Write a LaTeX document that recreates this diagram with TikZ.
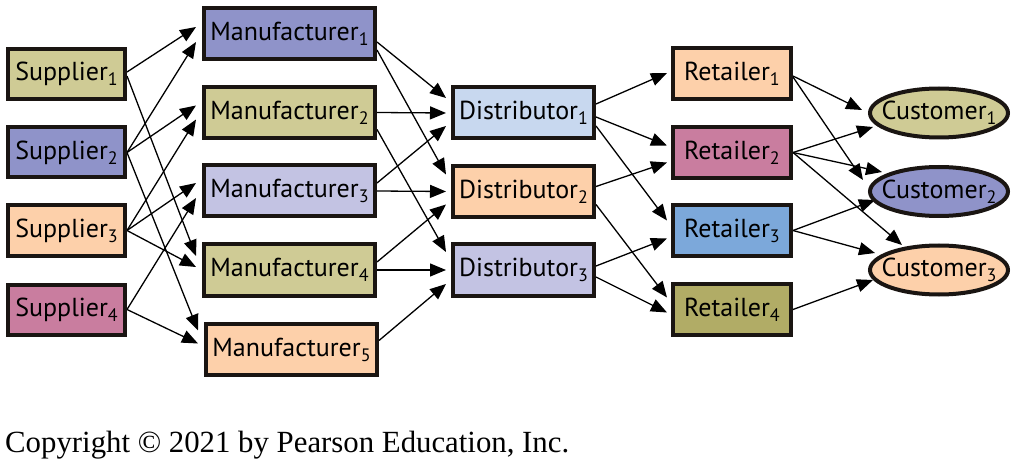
\documentclass[tikz,border=0pt]{standalone}
\usepackage{fontspec}
\setmainfont{Liberation Serif}
\newfontfamily\labfont{PT Sans}
\usetikzlibrary{arrows.meta,shapes.geometric,calc}
\pgfdeclarelayer{background}
\pgfsetlayers{background,main}
\newcommand\sbs[1]{\raisebox{-5pt}{\fontsize{18pt}{18pt}\selectfont #1}}
\definecolor{cOlive}{HTML}{CFCB95}
\definecolor{cBlue}{HTML}{8F93C9}
\definecolor{cPeach}{HTML}{FDD0AA}
\definecolor{cPink}{HTML}{C97D9F}
\definecolor{cLav}{HTML}{C3C3E3}
\definecolor{cLight}{HTML}{C8D8EF}
\definecolor{cRet}{HTML}{7CA8DA}
\definecolor{cDark}{HTML}{B1AC66}
\definecolor{bord}{HTML}{1A1512}
\tikzset{
  box/.style={draw=bord, line width=4pt, rectangle, inner sep=0pt,
    font=\labfont\fontsize{26pt}{26pt}\selectfont, text=black},
  sup/.style={box, minimum width=117pt, minimum height=50pt},
  man/.style={box, minimum width=171pt, minimum height=51pt},
  dis/.style={box, minimum width=141pt, minimum height=51pt},
  ret/.style={box, minimum width=118pt, minimum height=51pt},
  cus/.style={box, ellipse, inner xsep=-26pt, inner ysep=-4pt, minimum width=138pt, minimum height=49pt},
  arr/.style={line width=1.3pt, -{Triangle[length=16pt,width=13pt]}}
}
\begin{document}
\begin{tikzpicture}[x=1pt,y=-1pt]
\useasboundingbox (0,0) rectangle (1020,465);
% suppliers
\node[sup, fill=cOlive] (S1) at (66.5,74) {Supplier\sbs{1}};
\node[sup, fill=cBlue]  (S2) at (66.5,152.5) {Supplier\sbs{2}};
\node[sup, fill=cPeach] (S3) at (66.5,230.5) {Supplier\sbs{3}};
\node[sup, fill=cPink]  (S4) at (66.5,309.5) {Supplier\sbs{4}};
% manufacturers
\node[man, fill=cBlue]  (M1) at (289.5,34) {Manufacturer\sbs{1}};
\node[man, fill=cOlive] (M2) at (289.5,112.5) {Manufacturer\sbs{2}};
\node[man, fill=cLav]   (M3) at (289.5,191) {Manufacturer\sbs{3}};
\node[man, fill=cOlive] (M4) at (289.5,270) {Manufacturer\sbs{4}};
\node[man, fill=cPeach] (M5) at (291.5,349.5) {Manufacturer\sbs{5}};
% distributors
\node[dis, fill=cLight] (D1) at (523.5,113) {Distributor\sbs{1}};
\node[dis, fill=cPeach] (D2) at (523.5,191.5) {Distributor\sbs{2}};
\node[dis, fill=cLav]   (D3) at (523.5,270) {Distributor\sbs{3}};
% retailers
\node[ret, fill=cPeach] (R1) at (732,74) {Retailer\sbs{1}};
\node[ret, fill=cPink]  (R2) at (732,152.5) {Retailer\sbs{2}};
\node[ret, fill=cRet]   (R3) at (732,230.5) {Retailer\sbs{3}};
\node[ret, fill=cDark]  (R4) at (732,309.5) {Retailer\sbs{4}};
% customers
\node[cus, fill=cOlive] (C1) at (939,113) {Customer\sbs{1}};
\node[cus, fill=cBlue]  (C2) at (939,191.5) {Customer\sbs{2}};
\node[cus, fill=cPeach] (C3) at (939,270) {Customer\sbs{3}};
% copyright
\node[anchor=base west, inner sep=0pt, font=\fontsize{30.8pt}{30.8pt}\selectfont] (cp) at (5,452) {Copyright \textcopyright{} 2021 by Pearson Education, Inc.};
\begin{pgfonlayer}{background}
% supplier -> manufacturer
\draw[arr] ($(S1.east)+(0,-2)$) -- ($(M1.west)+(-6,-7)$);
\draw[arr] ($(S1.east)+(0,2)$)  -- ($(M4.west)+(-6,-14)$);
\draw[arr] (S2.east) -- ($(M1.west)+(-6,8)$);
\draw[arr] (S2.east) -- ($(M2.west)+(-6,-7)$);
\draw[arr] (S2.east) -- ($(M5.west)+(-6,-19)$);
\draw[arr] (S3.east) -- ($(M2.west)+(-6,7)$);
\draw[arr] (S3.east) -- ($(M3.west)+(-6,-8)$);
\draw[arr] (S3.east) -- ($(M4.west)+(-6,-3)$);
\draw[arr] (S4.east) -- ($(M3.west)+(-6,7)$);
\draw[arr] (S4.east) -- ($(M5.west)+(-6,-6)$);
% manufacturer -> distributor
\draw[arr] ($(M1.east)+(0,8)$)  -- ($(D1.west)+(-5,-15)$);
\draw[arr] ($(M1.east)+(0,16)$) -- ($(D2.west)+(-5,-17)$);
\draw[arr] (M2.east) -- ($(D1.west)+(-5,0)$);
\draw[arr] ($(M2.east)+(0,17)$) -- ($(D3.west)+(-5,-18)$);
\draw[arr] ($(M3.east)+(0,-8)$) -- ($(D1.west)+(-5,13)$);
\draw[arr] (M3.east) -- ($(D2.west)+(-5,0)$);
\draw[arr] ($(M4.east)+(0,-8)$) -- ($(D2.west)+(-5,13)$);
\draw[arr] (M4.east) -- ($(D3.west)+(-5,0)$);
\draw[arr] ($(M5.east)+(0,-9)$) -- ($(D3.west)+(-5,14)$);
% distributor -> retailer
\draw[arr] ($(D1.east)+(0,-9)$) -- ($(R1.west)+(-4,-1)$);
\draw[arr] ($(D1.east)+(0,4)$)  -- ($(R2.west)+(-4,-7)$);
\draw[arr] ($(D1.east)+(0,13)$) -- ($(R3.west)+(-4,-10)$);
\draw[arr] ($(D2.east)+(0,-5)$) -- ($(R2.west)+(-4,10)$);
\draw[arr] ($(D2.east)+(0,13)$) -- ($(R4.west)+(-4,-12)$);
\draw[arr] ($(D3.east)+(0,-4)$) -- ($(R3.west)+(-4,8)$);
\draw[arr] ($(D3.east)+(0,7)$)  -- ($(R4.west)+(-4,3)$);
% retailer -> customer
\draw[arr] ($(R1.east)+(0,2)$) -- ($(C1.center)+(-77,-3)$);
\draw[arr] ($(R1.east)+(0,3)$) -- ($(C2.center)+(-76,-11.5)$);
\draw[arr] (R2.east) -- ($(C1.center)+(-66,14)$);
\draw[arr] (R2.east) -- ($(C2.center)+(-57,-19.5)$);
\draw[arr] (R2.east) -- ($(C3.center)+(-37,-25)$);
\draw[arr] (R3.east) -- ($(C2.center)+(-64,8.5)$);
\draw[arr] (R3.east) -- ($(C3.center)+(-64,-17)$);
\draw[arr] (R4.east) -- ($(C3.center)+(-66,10)$);
\end{pgfonlayer}
\end{tikzpicture}
\end{document}
